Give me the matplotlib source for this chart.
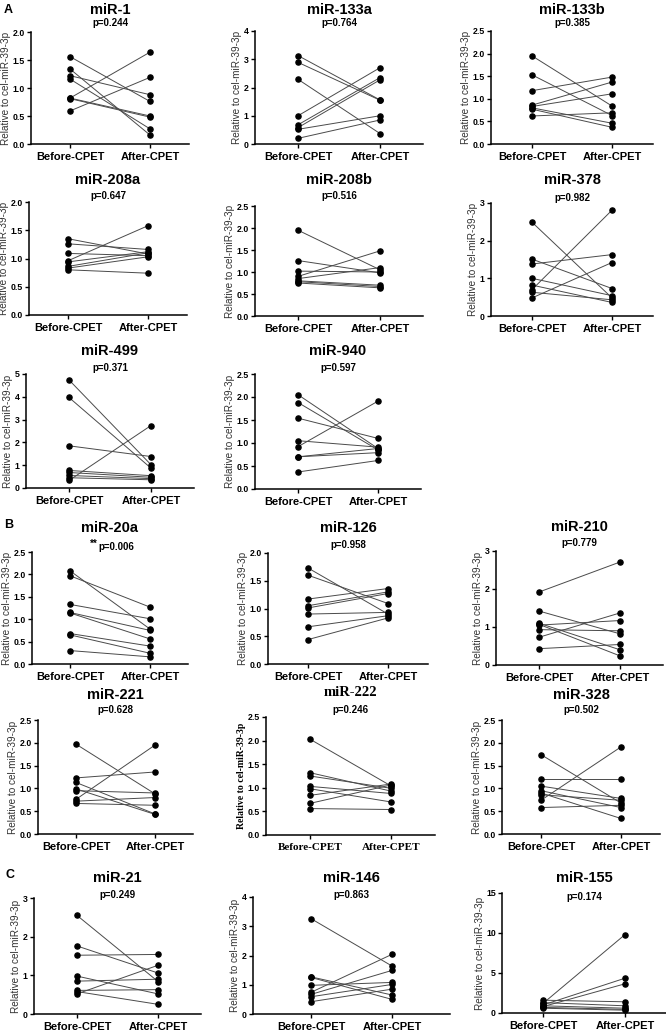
import matplotlib.pyplot as plt
from matplotlib.ticker import MultipleLocator, FormatStrFormatter

plt.rcParams['font.family'] = ['Liberation Sans', 'DejaVu Sans']

W, H = 666, 1030

# values (pairs: before -> after)
mir1_before = [1.56, 1.34, 1.22, 1.16, 0.82, 0.82, 0.81, 0.59]
mir1_after = [0.76, 0.16, 0.88, 0.27, 1.64, 0.50, 0.48, 1.19]
mir133a_before = [3.13, 2.89, 2.29, 1.00, 0.68, 0.58, 0.52, 0.20]
mir133a_after = [1.56, 1.55, 0.37, 2.70, 2.35, 2.27, 1.00, 0.85]
mir133b_before = [1.95, 1.53, 1.18, 0.86, 0.83, 0.80, 0.77, 0.62]
mir133b_after = [0.84, 0.63, 1.48, 1.37, 1.11, 0.46, 0.37, 0.69]
mir208a_before = [1.35, 1.26, 1.09, 0.96, 0.94, 0.86, 0.83, 0.80]
mir208a_after = [1.08, 1.16, 1.05, 1.58, 1.12, 1.10, 1.03, 0.74]
mir208b_before = [1.95, 1.26, 1.02, 0.90, 0.85, 0.80, 0.78, 0.75]
mir208b_after = [1.05, 0.98, 1.00, 1.48, 1.10, 0.70, 0.67, 0.64]
mir378_before = [2.49, 1.51, 1.38, 1.00, 0.82, 0.70, 0.63, 0.48]
mir378_after = [0.48, 0.73, 1.63, 0.54, 0.36, 2.81, 0.43, 1.42]
mir499_before = [4.74, 3.97, 1.85, 0.77, 0.68, 0.55, 0.45, 0.33]
mir499_after = [1.02, 0.87, 1.38, 0.54, 0.47, 0.41, 0.36, 2.74]
mir940_before = [2.05, 1.88, 1.54, 1.05, 0.92, 0.70, 0.70, 0.37]
mir940_after = [0.88, 0.85, 1.10, 0.91, 1.91, 0.79, 0.88, 0.62]
mir20a_before = [2.08, 1.97, 1.33, 1.15, 1.14, 0.68, 0.65, 0.30]
mir20a_after = [0.78, 1.27, 1.01, 0.75, 0.56, 0.40, 0.24, 0.16]
mir126_before = [1.73, 1.60, 1.17, 1.05, 1.01, 0.90, 0.67, 0.44]
mir126_after = [0.90, 1.09, 1.36, 1.30, 1.27, 0.93, 0.87, 0.83]
mir210_before = [1.92, 1.42, 1.10, 1.07, 1.05, 0.93, 0.73, 0.43]
mir210_after = [2.71, 0.82, 0.40, 0.24, 1.17, 0.90, 1.37, 0.54]
mir221_before = [1.97, 1.23, 1.13, 0.99, 0.95, 0.76, 0.72, 0.67]
mir221_after = [0.88, 1.36, 0.44, 0.43, 0.90, 1.95, 0.80, 0.63]
mir222_before = [2.03, 1.32, 1.25, 1.03, 0.98, 0.84, 0.67, 0.56]
mir222_after = [1.04, 0.93, 0.99, 0.88, 0.70, 1.08, 1.06, 0.54]
mir328_before = [1.74, 1.21, 1.05, 0.95, 0.90, 0.86, 0.74, 0.58]
mir328_after = [0.68, 1.21, 0.78, 0.58, 0.34, 0.74, 1.91, 0.63]
mir21_before = [2.55, 1.76, 1.52, 0.98, 0.85, 0.61, 0.58, 0.52]
mir21_after = [0.84, 1.06, 1.54, 0.52, 0.90, 0.63, 0.25, 1.26]
mir146_before = [3.26, 1.27, 1.25, 0.98, 0.74, 0.67, 0.59, 0.42]
mir146_after = [1.64, 0.65, 0.50, 1.08, 2.04, 1.49, 1.01, 0.85]
mir155_before = [1.6, 1.3, 1.2, 1.0, 0.9, 0.8, 0.7, 0.6]
mir155_after = [1.4, 0.9, 9.8, 4.35, 0.6, 3.65, 0.45, 0.35]

titles = ['miR-1', 'miR-133a', 'miR-133b', 'miR-208a', 'miR-208b', 'miR-378',
          'miR-499', 'miR-940', 'miR-20a', 'miR-126', 'miR-210', 'miR-221',
          'miR-222', 'miR-328', 'miR-21', 'miR-146', 'miR-155']
p_texts = ['p=0.244', 'p=0.764', 'p=0.385', 'p=0.647', 'p=0.516', 'p=0.982',
           'p=0.371', 'p=0.597', 'p=0.006', 'p=0.958', 'p=0.779', 'p=0.628',
           'p=0.246', 'p=0.502', 'p=0.249', 'p=0.863', 'p=0.174']
y_max = [2, 4, 2.5, 2, 2.5, 3, 5, 2.5, 2.5, 2, 3, 2.5, 2.5, 2.5, 3, 4, 15]
y_step = [0.5, 1, 0.5, 0.5, 0.5, 1, 1, 0.5, 0.5, 0.5, 1, 0.5, 0.5, 0.5, 1, 1, 5]
categories = ['Before-CPET', 'After-CPET']
before_vals = [mir1_before, mir133a_before, mir133b_before, mir208a_before,
               mir208b_before, mir378_before, mir499_before, mir940_before,
               mir20a_before, mir126_before, mir210_before, mir221_before,
               mir222_before, mir328_before, mir21_before, mir146_before,
               mir155_before]
after_vals = [mir1_after, mir133a_after, mir133b_after, mir208a_after,
              mir208b_after, mir378_after, mir499_after, mir940_after,
              mir20a_after, mir126_after, mir210_after, mir221_after,
              mir222_after, mir328_after, mir21_after, mir146_after,
              mir155_after]

# pixel layout: y-axis x, before x, after x, top, bottom, title y, p y
layout = [
    (31, 70, 150, 32, 144, 10, 23),
    (255, 298, 380, 31, 144, 10, 23),
    (491, 532, 612, 31, 144, 10, 23),
    (29, 68, 148, 202, 315, 180, 196),
    (255, 298, 380, 206, 316, 180, 196),
    (491, 532, 612, 203, 316, 180, 198),
    (26, 69, 151, 374, 488, 351, 368),
    (255, 298, 378, 374, 489, 351, 368),
    (32, 70, 150, 552, 664, 528, 547),
    (268, 308, 388, 553, 664, 528, 545),
    (496, 539, 620, 551, 665, 527, 543),
    (38, 76, 155, 720, 834, 695, 710),
    (266, 310, 391, 717, 835, 693, 710),
    (502, 541, 621, 720, 834, 695, 710),
    (34, 77, 158, 898, 1014, 878, 895),
    (253, 311, 392, 897, 1014, 878, 895),
    (502, 543, 625, 893, 1013, 878, 897),
]

fig = plt.figure(figsize=(W / 100, H / 100), dpi=100)

for i, name in enumerate(titles):
    L, B, A, top, bot, ty, py = layout[i]
    sp = A - B
    off = B - L
    R = A + off
    serif = name == 'miR-222'
    fam = ['Liberation Serif'] if serif else ['Liberation Sans']

    ax = fig.add_axes([L / W, 1 - bot / H, (R - L) / W, (bot - top) / H])
    for b, a in zip(before_vals[i], after_vals[i]):
        ax.plot([0, 1], [b, a], color='#4a4a4a', lw=0.7, zorder=1)
    ax.plot([0] * len(before_vals[i]), before_vals[i], 'o', color='black',
            ms=3.7, zorder=2, clip_on=False)
    ax.plot([1] * len(after_vals[i]), after_vals[i], 'o', color='black',
            ms=3.7, zorder=2, clip_on=False)

    ax.set_xlim(-off / sp, 1 + off / sp)
    ax.set_ylim(0, y_max[i])
    ax.yaxis.set_major_locator(MultipleLocator(y_step[i]))
    if y_step[i] < 1:
        ax.yaxis.set_major_formatter(FormatStrFormatter('%.1f'))
    else:
        ax.yaxis.set_major_formatter(FormatStrFormatter('%d'))
    ax.set_xticks([0, 1])
    ax.set_xticklabels(categories, fontweight='bold', fontsize=8, family=fam)
    for lab in ax.get_yticklabels():
        lab.set_fontweight('bold')
    for s in ['top', 'right']:
        ax.spines[s].set_visible(False)
    for s in ['left', 'bottom']:
        ax.spines[s].set_linewidth(1.1)
    ax.tick_params(axis='y', length=3, width=1, pad=1.5, labelsize=6.3)
    ax.tick_params(axis='x', length=3, width=1, pad=2.5)
    if serif:
        ax.set_ylabel('Relative to cel-miR-39-3p', fontsize=7, family=fam,
                      fontweight='bold', labelpad=1)
    else:
        ax.set_ylabel('Relative to cel-miR-39-3p', fontsize=7.2, color='#333333',
                      labelpad=1)

    cx = (L + R) / 2
    fig.text(cx / W, 1 - ty / H, name, ha='center', va='center',
             fontsize=10.5, fontweight='bold', family=fam)
    if name == 'miR-20a':
        fig.text((cx - 12) / W, 1 - py / H, p_texts[i], ha='left',
                 va='center', fontsize=7, fontweight='bold')
        fig.text((cx - 12) / W, 1 - (py - 3) / H, '**', ha='right',
                 va='center', fontsize=7, fontweight='bold')
    else:
        fig.text(cx / W, 1 - py / H, p_texts[i], ha='center', va='center',
                 fontsize=7, fontweight='bold')

fig.text(4 / W, 1 - 10 / H, 'A', fontsize=9, fontweight='bold', va='center')
fig.text(4 / W, 1 - 525 / H, 'B', fontsize=9, fontweight='bold', va='center')
fig.text(6 / W, 1 - 875 / H, 'C', fontsize=9, fontweight='bold', va='center')

fig.savefig('out.png', dpi=100)
